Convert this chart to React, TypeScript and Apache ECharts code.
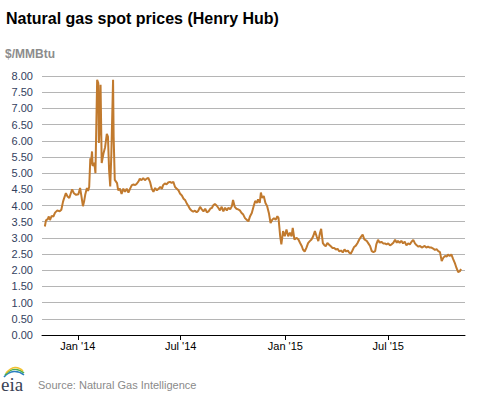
import React, { useEffect, useRef } from "react";
import * as echarts from "echarts";

// days since 2014-01-01 for each daily reading shown
const dayOffsets = [
  -58, -56, -53, -51, -49, -46, -43, -40, -36, -32, -29, -26, -24, -21, -18, -15, -10, -7, -3, 1,
  4, 6, 9, 11, 13, 16, 18, 20, 22, 23, 25, 26, 29, 31, 32, 34, 36, 37, 38, 40,
  42, 45, 48, 51, 53, 55, 57, 59, 62, 63, 65, 69, 71, 74, 77, 80, 83, 86, 89, 92,
  95, 98, 101, 104, 107, 109, 112, 115, 118, 121, 124, 127, 130, 133, 136, 139, 142, 145, 148, 150,
  153, 156, 159, 162, 165, 168, 171, 174, 177, 180, 183, 186, 189, 192, 194, 197, 200, 203, 206, 209,
  212, 215, 218, 221, 224, 227, 230, 233, 236, 238, 241, 244, 247, 250, 253, 256, 259, 262, 265, 268,
  271, 273, 276, 279, 282, 285, 288, 291, 294, 297, 300, 303, 306, 309, 312, 315, 317, 320, 322, 324,
  327, 330, 333, 336, 339, 342, 345, 348, 351, 353, 356, 358, 361, 364, 367, 370, 373, 376, 378, 381,
  385, 388, 391, 394, 396, 399, 402, 405, 408, 411, 414, 417, 420, 423, 426, 428, 431, 433, 436, 439,
  442, 445, 448, 451, 454, 457, 460, 463, 466, 469, 472, 475, 477, 480, 483, 486, 489, 492, 495, 498,
  501, 504, 508, 511, 514, 517, 520, 523, 525, 528, 531, 534, 537, 540, 543, 546, 549, 552, 555, 558,
  561, 563, 566, 569, 572, 575, 578, 581, 584, 587, 590, 593, 596, 599, 602, 605, 608, 610, 613, 616,
  619, 622, 625, 628, 631, 634, 637, 640, 643, 646, 649, 651, 654, 657, 660, 663, 666, 669, 672, 674,
];

// $/MMBtu
const prices = [
  3.35, 3.54, 3.58, 3.66, 3.55, 3.68, 3.66, 3.78, 3.85, 3.82, 3.87, 4.12, 4.23, 4.38, 4.28, 4.23, 4.5, 4.38, 4.33, 4.35,
  4.54, 4.33, 3.98, 4.12, 4.33, 4.54, 4.45, 4.57, 5.46, 5.27, 5.67, 5.22, 5.32, 5.0, 5.0, 7.88, 7.78, 5.93, 6.3, 7.73,
  5.31, 5.6, 5.8, 6.21, 6.13, 5.1, 4.59, 5.6, 7.88, 6.13, 4.79, 4.69, 4.47, 4.52, 4.36, 4.52, 4.42, 4.52, 4.4, 4.52,
  4.63, 4.65, 4.63, 4.68, 4.75, 4.83, 4.78, 4.85, 4.78, 4.83, 4.85, 4.73, 4.52, 4.42, 4.54, 4.47, 4.52, 4.57, 4.52, 4.63,
  4.68, 4.65, 4.71, 4.73, 4.7, 4.73, 4.57, 4.52, 4.47, 4.36, 4.31, 4.21, 4.16, 4.05, 4.0, 3.9, 3.84, 3.81, 3.84, 3.79,
  3.84, 3.96, 3.88, 3.82, 3.9, 3.79, 3.82, 3.9, 3.93, 4.0, 4.05, 4.0, 3.93, 3.85, 3.96, 3.82, 3.93, 3.85, 3.93, 3.88,
  3.98, 4.17, 3.96, 3.9, 3.88, 3.85, 3.77, 3.72, 3.61, 3.56, 3.51, 3.67, 3.77, 3.96, 4.14, 4.08, 4.19, 4.08, 4.4, 4.24,
  4.29, 4.08, 3.98, 3.77, 3.46, 3.56, 3.61, 3.56, 3.67, 3.61, 3.04, 2.8, 3.21, 3.05, 3.26, 3.05, 3.16, 3.05, 3.31, 2.95,
  3.0, 2.95, 2.84, 2.74, 2.64, 2.58, 2.69, 2.84, 2.9, 2.95, 3.05, 3.21, 3.05, 2.9, 3.16, 3.28, 2.84, 2.79, 2.74, 2.84,
  2.79, 2.74, 2.69, 2.69, 2.64, 2.66, 2.58, 2.61, 2.55, 2.64, 2.58, 2.61, 2.55, 2.51, 2.61, 2.72, 2.76, 2.84, 2.95, 3.03,
  3.1, 2.95, 2.91, 2.83, 2.75, 2.59, 2.56, 2.59, 2.8, 2.94, 2.85, 2.88, 2.83, 2.83, 2.8, 2.83, 2.77, 2.8, 2.85, 2.94,
  2.85, 2.91, 2.85, 2.91, 2.83, 2.88, 2.77, 2.83, 2.8, 2.88, 2.94, 2.83, 2.77, 2.73, 2.75, 2.7, 2.73, 2.75, 2.7, 2.73,
  2.7, 2.7, 2.67, 2.63, 2.65, 2.59, 2.56, 2.28, 2.39, 2.44, 2.42, 2.49, 2.44, 2.49, 2.35, 2.23, 2.07, 1.94, 1.97, 2.04,
];

// tick positions as days since 2014-01-01 (Jan 1 / Jul 1)
const tickDays = [0, 181, 365, 546];
const tickLabels = ["Jan '14", "Jul '14", "Jan '15", "Jul '15"];
const axisStartDay = -63;
const axisEndDay = 681;
const yMin = 0;
const yMax = 8;
const yStep = 0.5;

const FONT = "'Liberation Sans', Arial, sans-serif";

export default function App() {
  const ref = useRef<HTMLDivElement>(null);
  useEffect(() => {
    const chart = echarts.init(ref.current!, null, { renderer: "svg" });
    const data = dayOffsets.map((d, i) => [d, prices[i]]);
    const labelFor = (v: number) => {
      const i = tickDays.indexOf(Math.round(v));
      return i >= 0 ? tickLabels[i] : "";
    };
    chart.setOption({
      animation: false,
      grid: { left: 42, right: 12, top: 76, bottom: 58, containLabel: false },
      xAxis: {
        type: "value",
        min: axisStartDay,
        max: axisEndDay,
        axisLine: { show: true, onZero: false, lineStyle: { color: "#000", width: 1 } },
        axisTick: { show: true, customValues: tickDays, length: 5, lineStyle: { color: "#000" } },
        axisLabel: {
          customValues: tickDays,
          formatter: (v: number) => labelFor(v),
          color: "#000",
          fontSize: 11,
          fontFamily: FONT,
          margin: 5,
        },
        splitLine: { show: false },
      },
      yAxis: {
        type: "value",
        min: yMin,
        max: yMax,
        interval: yStep,
        axisLine: { show: false },
        axisTick: { show: false },
        axisLabel: {
          formatter: (v: number) => v.toFixed(2),
          color: "#33415e",
          fontSize: 11,
          fontFamily: FONT,
          margin: 9,
        },
        splitLine: { lineStyle: { color: "#b5b5b5", width: 1 } },
      },
      series: [
        {
          type: "line",
          data,
          symbol: "none",
          showSymbol: false,
          lineStyle: { color: "#c17a2e", width: 2 },
        },
      ],
      graphic: [
        {
          type: "text",
          x: 6,
          y: 18,
          style: {
            text: "Natural gas spot prices (Henry Hub)",
            font: `bold 16px ${FONT}`,
            fill: "#000",
            verticalAlign: "middle",
          },
        },
        {
          type: "text",
          x: 5,
          y: 54,
          style: {
            text: "$/MMBtu",
            font: `bold 12px ${FONT}`,
            fill: "#8c8c8c",
            verticalAlign: "middle",
          },
        },
        {
          type: "text",
          x: 38,
          y: 385,
          style: {
            text: "Source: Natural Gas Intelligence",
            font: `11px ${FONT}`,
            fill: "#8a8a8a",
            verticalAlign: "middle",
          },
        },
        {
          type: "text",
          x: 1,
          y: 384,
          style: {
            text: "eia",
            font: `19px 'Liberation Serif', 'DejaVu Serif', serif`,
            fill: "#3a4356",
            verticalAlign: "middle",
          },
        },
        {
          type: "bezierCurve",
          shape: { x1: 4, y1: 377, x2: 24, y2: 375, cpx1: 10, cpy1: 370, cpx2: 18, cpy2: 370 },
          style: { stroke: "#2a7fc0", lineWidth: 1.6, fill: "none" },
        },
        {
          type: "bezierCurve",
          shape: { x1: 5, y1: 375, x2: 24, y2: 373, cpx1: 11, cpy1: 368, cpx2: 18, cpy2: 368 },
          style: { stroke: "#4caf50", lineWidth: 1.6, fill: "none" },
        },
        {
          type: "bezierCurve",
          shape: { x1: 6, y1: 373, x2: 23, y2: 371, cpx1: 12, cpy1: 366, cpx2: 18, cpy2: 366 },
          style: { stroke: "#f2c230", lineWidth: 1.6, fill: "none" },
        },
      ],
    });
    return () => chart.dispose();
  }, []);
  return (
    <div
      ref={ref}
      style={{ position: "fixed", left: 0, top: 0, width: 477, height: 393, background: "#fff" }}
    />
  );
}
